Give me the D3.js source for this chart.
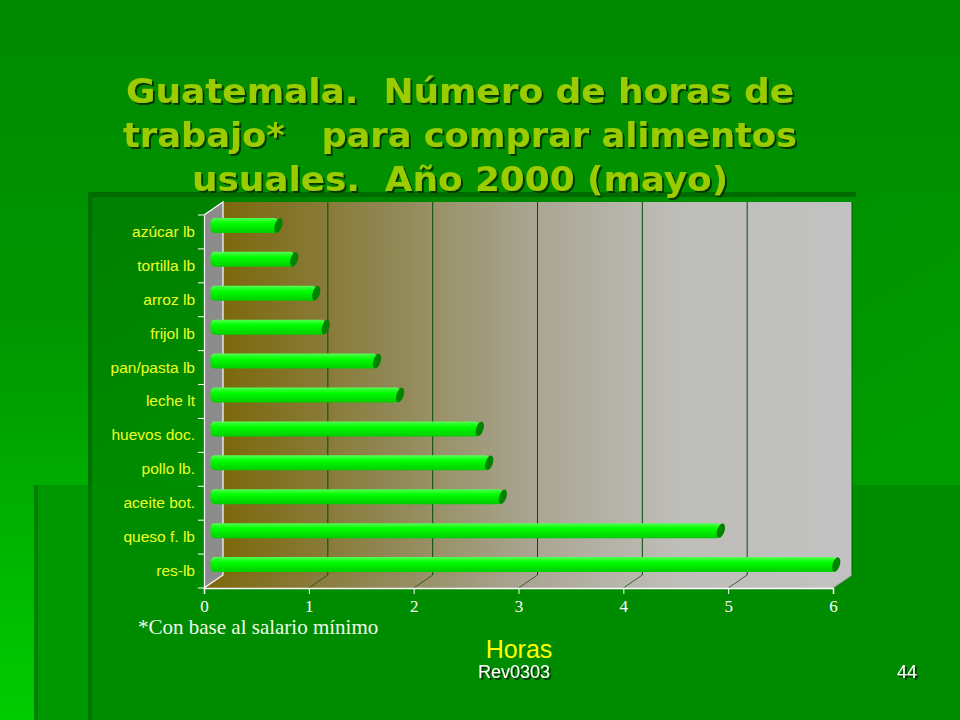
<!DOCTYPE html>
<html>
<head>
<meta charset="utf-8">
<script src="https://cdn.jsdelivr.net/npm/d3@7"></script>
<style>
  body { margin: 0; background: #008a00; }
  svg { display: block; }
</style>
</head>
<body>
<svg id="slide" width="960" height="720"></svg>
<script>
/*** Data ***/
var foods = ["azúcar lb", "tortilla lb", "arroz lb", "frijol lb", "pan/pasta lb", "leche lt",
             "huevos doc.", "pollo lb.", "aceite bot.", "queso f. lb", "res-lb"];
var hours = [0.62, 0.77, 0.98, 1.07, 1.56, 1.78, 2.54, 2.63, 2.76, 4.84, 5.94];
var hourTicks = [0, 1, 2, 3, 4, 5, 6];
var titleLines = ["Guatemala.  Número de horas de", "trabajo*   para comprar alimentos", "usuales.  Año 2000 (mayo)"];
var titleWidths = [668, 674, 536];

/*** Slide ***/
var svg = d3.select("#slide"),
    W = 960, H = 720;
var defs = svg.append("defs");

function grad(id, x2, y2, stops) {
  var g = defs.append("linearGradient").attr("id", id)
    .attr("x1", 0).attr("y1", 0).attr("x2", x2).attr("y2", y2);
  stops.forEach(s => g.append("stop").attr("offset", s[0]).attr("stop-color", s[1]));
}
grad("bgGrad", 0, 1, [[0, "#008a00"], [0.45, "#009600"], [1, "#00cc00"]]);
grad("panelGrad", 1, 1, [[0, "#007f00"], [1, "#00a800"]]);
grad("wallGrad", 1, 0, [[0, "#7c680c"], [0.25, "#8f8550"], [0.5, "#aaa694"], [0.72, "#bebdb8"], [1, "#c2c2c2"]]);
grad("barGrad", 0, 1, [[0, "#55ff55"], [0.35, "#00ff00"], [1, "#00cc00"]]);

var shadow = defs.append("filter").attr("id", "shadow");
shadow.append("feDropShadow").attr("dx", 2).attr("dy", 2).attr("stdDeviation", 0.6)
  .attr("flood-color", "#003000").attr("flood-opacity", 0.9);

// background blocks of the slide template
svg.append("rect").attr("width", W).attr("height", H).attr("fill", "url(#bgGrad)");
svg.append("rect").attr("x", 88).attr("y", 192).attr("width", W - 88).attr("height", H - 192)
  .attr("fill", "url(#panelGrad)");
svg.append("rect").attr("x", 34).attr("y", 485).attr("width", W - 34).attr("height", H - 485)
  .attr("fill", "#009800");
svg.append("rect").attr("x", 88).attr("y", 485).attr("width", W - 88).attr("height", H - 485)
  .attr("fill", "#008c00");
svg.append("rect").attr("x", 88).attr("y", 192).attr("width", 4).attr("height", 293).attr("fill", "#007000");
svg.append("rect").attr("x", 34).attr("y", 485).attr("width", 4).attr("height", H - 485).attr("fill", "#008000");
svg.append("rect").attr("x", 88).attr("y", 485).attr("width", 4).attr("height", H - 485).attr("fill", "#007800");
svg.append("rect").attr("x", 92).attr("y", 192).attr("width", 764).attr("height", 5).attr("fill", "#006c00");

/*** Title ***/
svg.append("g").attr("filter", "url(#shadow)")
  .selectAll("text").data(titleLines).enter().append("text")
    .attr("x", 460).attr("y", (d, i) => 103 + i * 44)
    .attr("text-anchor", "middle")
    .attr("font-family", "'DejaVu Sans', Verdana, sans-serif")
    .attr("font-weight", "bold").attr("font-size", "34px")
    .attr("fill", "#9acc00")
    .attr("textLength", (d, i) => titleWidths[i])
    .attr("lengthAdjust", "spacingAndGlyphs")
    .style("white-space", "pre")
    .text(d => d);

/*** Chart ***/
var dx = 19, dy = -13;
var x = d3.scaleLinear().domain([0, 6]).range([204, 833]);
var y = d3.scaleBand().domain(foods).range([215, 588]).padding(0);
var y0 = y.range()[0], y1 = y.range()[1];

var chart = svg.append("g");

// back wall
chart.append("rect")
  .attr("x", x(0) + dx).attr("y", y0 + dy)
  .attr("width", x(6) - x(0)).attr("height", y1 - y0)
  .attr("fill", "url(#wallGrad)");

// floor
chart.append("path")
  .attr("d", d3.line()([[x(0), y1], [x(6), y1], [x(6) + dx, y1 + dy], [x(0) + dx, y1 + dy]]))
  .attr("fill", "url(#wallGrad)");

// side wall
chart.append("path")
  .attr("d", d3.line()([[x(0), y0], [x(0) + dx, y0 + dy], [x(0) + dx, y1 + dy], [x(0), y1]]))
  .attr("fill", "#8c8c8c");

// grid lines on wall and floor
var grid = chart.append("g").selectAll("g").data(hourTicks.slice(1)).enter().append("g");
grid.append("line")
  .attr("x1", d => x(d) + dx).attr("x2", d => x(d) + dx)
  .attr("y1", y0 + dy).attr("y2", y1 + dy)
  .attr("stroke", d => d === 6 ? "#006000" : "#0a4a0a").attr("stroke-width", 1);
grid.filter(d => d < 6).append("line")
  .attr("x1", d => x(d)).attr("x2", d => x(d) + dx)
  .attr("y1", y1).attr("y2", y1 + dy)
  .attr("stroke", "#1a4a1a").attr("stroke-width", 0.8);
chart.append("line")
  .attr("x1", x(6)).attr("x2", x(6) + dx).attr("y1", y1).attr("y2", y1 + dy)
  .attr("stroke", "#9a9a9a");

// white edges of the box
chart.append("path")
  .attr("d", d3.line()([[x(0), y0], [x(0) + dx, y0 + dy], [x(0) + dx, y1 + dy], [x(0), y1]]))
  .attr("fill", "none").attr("stroke", "#ffffff").attr("stroke-width", 1.2);

// axes (front edges)
var xAxis = chart.append("g").attr("transform", "translate(0," + y1 + ")")
  .call(d3.axisBottom(x).tickValues(hourTicks).tickFormat(d3.format("d")).tickSize(6).tickPadding(6));
xAxis.select(".domain").attr("stroke", "#ffffff").attr("stroke-width", 1.5);
xAxis.selectAll(".tick line").attr("stroke", "#ffffff");
xAxis.selectAll(".tick text")
  .attr("fill", "#ffffff").attr("font-size", "17px")
  .attr("font-family", "'Times New Roman', 'Liberation Serif', serif");

var yAxis = chart.append("g").attr("transform", "translate(" + x(0) + ",0)")
  .call(d3.axisLeft(y).tickSize(0).tickPadding(9));
yAxis.select(".domain").attr("stroke", "#ffffff").attr("stroke-width", 1.2);
yAxis.selectAll(".tick text")
  .attr("fill", "#eeff22").attr("font-size", "15.5px")
  .attr("font-family", "Arial, 'Liberation Sans', sans-serif");
// band boundary ticks
yAxis.append("g").selectAll("line").data(foods.concat(["end"])).enter().append("line")
  .attr("x1", -6).attr("x2", 0)
  .attr("y1", (d, i) => y0 + i * y.step()).attr("y2", (d, i) => y0 + i * y.step())
  .attr("stroke", "#ffffff");

// cylinder bars
var barH = 15;
var bars = chart.append("g").selectAll("g").data(foods).enter().append("g")
  .attr("transform", d => "translate(0," + (y(d) + y.bandwidth() / 2 + dy / 2) + ")");
bars.append("rect")
  .attr("x", x(0) + dx / 2 - 3)
  .attr("y", -barH / 2)
  .attr("width", (d, i) => x(hours[i]) - x(0) + 3)
  .attr("height", barH)
  .attr("rx", 4).attr("ry", 5)
  .attr("fill", "url(#barGrad)");
bars.append("ellipse")
  .attr("transform", (d, i) => "translate(" + (x(hours[i]) + dx / 2) + ",0) rotate(18)")
  .attr("rx", 3.6).attr("ry", barH / 2)
  .attr("fill", "#008400");

/*** Notes ***/
svg.append("text").attr("x", 138).attr("y", 634)
  .attr("font-family", "'Times New Roman', 'Liberation Serif', serif")
  .attr("font-size", "21px").attr("fill", "#eefce8")
  .text("*Con base al salario mínimo");

svg.append("text").attr("x", 519).attr("y", 658).attr("text-anchor", "middle")
  .attr("font-family", "Arial, 'Liberation Sans', sans-serif")
  .attr("font-size", "25px").attr("fill", "#ffff00")
  .text("Horas");

var footer = svg.append("g").attr("filter", "url(#shadow)")
  .attr("font-family", "Arial, 'Liberation Sans', sans-serif")
  .attr("font-size", "18px").attr("fill", "#ffffff");
footer.append("text").attr("x", 514).attr("y", 678).attr("text-anchor", "middle").text("Rev0303");
footer.append("text").attr("x", 907).attr("y", 678).attr("text-anchor", "middle").text("44");
</script>
</body>
</html>
